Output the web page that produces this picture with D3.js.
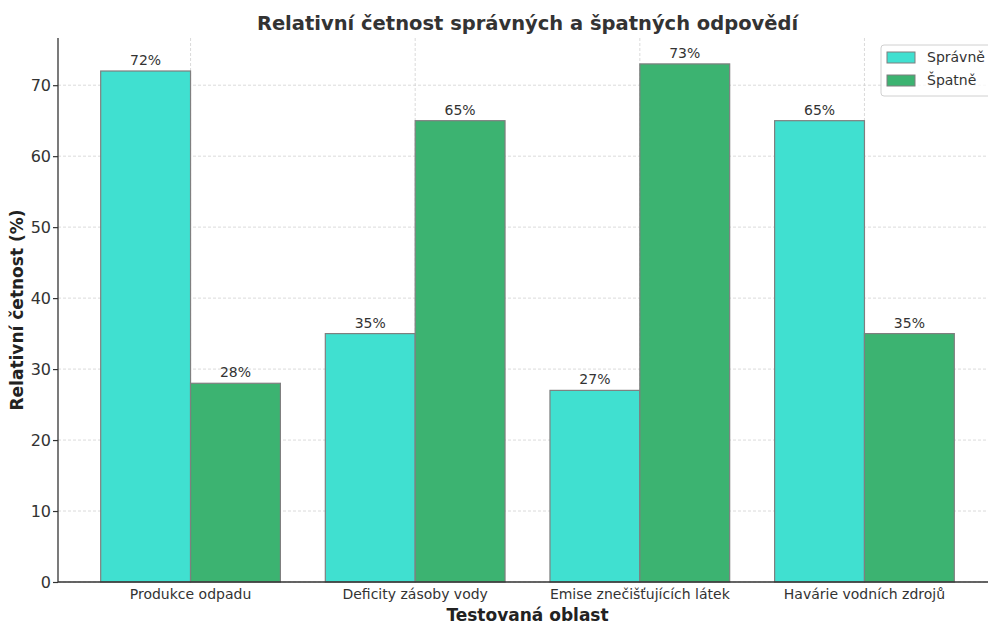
<!DOCTYPE html>
<html>
<head>
<meta charset="utf-8">
<script src="https://cdn.jsdelivr.net/npm/d3@7"></script>
<style>
  html, body { margin: 0; padding: 0; background: #fff; }
  svg { display: block; font-family: "DejaVu Sans", sans-serif; }
</style>
</head>
<body>
<svg id="chart" width="988" height="624"></svg>
<script>
// Tested areas and the share of correct / wrong answers (%)
const categories = ["Produkce odpadu", "Deficity zásoby vody", "Emise znečišťujících látek", "Havárie vodních zdrojů"];
const seriesNames = ["Správně", "Špatně"];
const correct = [72, 35, 27, 65];
const wrong = [28, 65, 73, 35];
const yTicks = [0, 10, 20, 30, 40, 50, 60, 70];
const colors = ["#40E0D0", "#3CB371"];

const svg = d3.select("#chart");
const plotL = 58, plotR = 997, plotT = 38, plotB = 582;
const barW = 0.4;

const x = d3.scaleLinear().domain([-0.59, categories.length - 1 + 0.59]).range([plotL, plotR]);
const y = d3.scaleLinear().domain([0, 76.65]).range([plotB, plotT]);

// grid
const grid = svg.append("g").attr("stroke", "#d2d2d2").attr("stroke-dasharray", "3,2").attr("stroke-width", 0.8);
grid.selectAll("line.h").data(yTicks).join("line").attr("class", "h")
  .attr("x1", plotL).attr("x2", plotR).attr("y1", d => y(d)).attr("y2", d => y(d));
grid.selectAll("line.v").data(categories).join("line").attr("class", "v")
  .attr("x1", (d, i) => x(i)).attr("x2", (d, i) => x(i)).attr("y1", plotT).attr("y2", plotB);

// bars
const series = [correct, wrong];
series.forEach((vals, s) => {
  const off = s === 0 ? -barW : 0;
  const g = svg.append("g");
  g.selectAll("rect").data(vals).join("rect")
    .attr("x", (d, i) => x(i + off))
    .attr("width", (d, i) => x(i + off + barW) - x(i + off))
    .attr("y", d => y(d))
    .attr("height", d => y(0) - y(d))
    .attr("fill", colors[s])
    .attr("stroke", "#7f7f7f").attr("stroke-width", 1.2);
  g.selectAll("text").data(vals).join("text")
    .attr("x", (d, i) => x(i + off + barW / 2))
    .attr("y", d => y(d) - 6)
    .attr("text-anchor", "middle")
    .attr("font-size", 14).attr("fill", "#333")
    .text(d => d + "%");
});

// y axis
const yAxis = d3.axisLeft(y).tickValues(yTicks).tickSize(5).tickPadding(2);
const ya = svg.append("g").attr("transform", `translate(${plotL},0)`).call(yAxis);
ya.select(".domain").attr("stroke", "#333").attr("stroke-width", 1.3).attr("d", `M0,${plotT}V${plotB}`);
ya.selectAll(".tick line").attr("stroke", "#333").attr("stroke-width", 1.2);
ya.selectAll(".tick text").attr("font-size", 16).attr("fill", "#333").attr("font-family", "DejaVu Sans");

// x axis
svg.append("line").attr("x1", plotL).attr("x2", plotR).attr("y1", plotB).attr("y2", plotB)
  .attr("stroke", "#333").attr("stroke-width", 1.3);
svg.append("g").selectAll("text").data(categories).join("text")
  .attr("x", (d, i) => x(i)).attr("y", plotB + 17)
  .attr("text-anchor", "middle").attr("font-size", 14).attr("fill", "#333")
  .text(d => d);

// titles
svg.append("text").attr("x", (plotL + plotR) / 2).attr("y", 30)
  .attr("text-anchor", "middle").attr("font-size", 19.5).attr("font-weight", "bold").attr("fill", "#333")
  .text("Relativní četnost správných a špatných odpovědí");
svg.append("text").attr("x", (plotL + plotR) / 2).attr("y", 621)
  .attr("text-anchor", "middle").attr("font-size", 17).attr("font-weight", "bold").attr("fill", "#222")
  .text("Testovaná oblast");
svg.append("text").attr("transform", `translate(23,${(plotT + plotB) / 2}) rotate(-90)`)
  .attr("text-anchor", "middle").attr("font-size", 17).attr("font-weight", "bold").attr("fill", "#222")
  .text("Relativní četnost (%)");

// legend
const lg = svg.append("g").attr("transform", "translate(881,45)");
lg.append("rect").attr("width", 112).attr("height", 51).attr("rx", 3)
  .attr("fill", "#fff").attr("fill-opacity", 0.8).attr("stroke", "#d0d0d0");
seriesNames.forEach((n, i) => {
  lg.append("rect").attr("x", 6).attr("y", 7 + i * 23).attr("width", 28).attr("height", 11)
    .attr("fill", colors[i]).attr("stroke", "#7f7f7f");
  lg.append("text").attr("x", 46).attr("y", 17 + i * 23).attr("font-size", 14).attr("fill", "#333").text(n);
});
</script>
</body>
</html>
